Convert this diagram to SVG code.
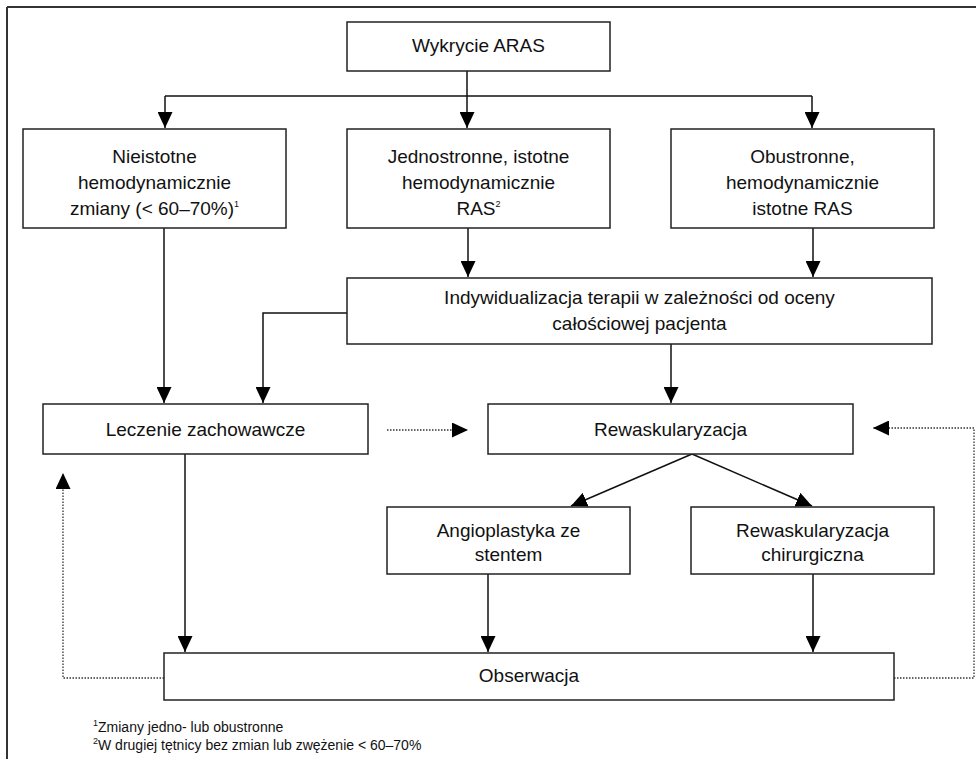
<svg xmlns="http://www.w3.org/2000/svg" width="976" height="759" viewBox="0 0 976 759">
<style>
.box{fill:#fff;stroke:#222;stroke-width:1.5}
.t{font-family:"Liberation Sans",Arial,sans-serif;font-size:19px;fill:#111;text-anchor:middle}
.fn{font-family:"Liberation Sans",Arial,sans-serif;font-size:14px;fill:#111}
.sup{font-size:9px}
.ln{fill:none;stroke:#111;stroke-width:1.5}
.dot{fill:none;stroke:#333;stroke-width:1.3;stroke-dasharray:1.5 1.5}
</style>
<defs>
<marker id="ah" viewBox="0 0 16 15" refX="16" refY="7.5" markerWidth="16" markerHeight="15" markerUnits="userSpaceOnUse" orient="auto">
<path d="M0,0 L16,7.5 L0,15 Z" fill="#000"/>
</marker>
</defs>
<g id="frame">
<line x1="7" y1="7" x2="976" y2="7" stroke="#333" stroke-width="2"/>
<line x1="7" y1="7" x2="7" y2="759" stroke="#333" stroke-width="2"/>
</g>
<g id="connectors">
<line class="ln" x1="467" y1="71" x2="467" y2="96"/>
<line class="ln" x1="165" y1="96" x2="812" y2="96"/>
<line class="ln" x1="165" y1="96" x2="165" y2="128" marker-end="url(#ah)"/>
<line class="ln" x1="467" y1="96" x2="467" y2="128" marker-end="url(#ah)"/>
<line class="ln" x1="812" y1="96" x2="812" y2="128" marker-end="url(#ah)"/>
<line class="ln" x1="468" y1="228" x2="468" y2="277" marker-end="url(#ah)"/>
<line class="ln" x1="813" y1="228" x2="813" y2="277" marker-end="url(#ah)"/>
<line class="ln" x1="164" y1="228" x2="164" y2="403" marker-end="url(#ah)"/>
<polyline class="ln" points="347,313 263,313 263,403" marker-end="url(#ah)"/>
<line class="ln" x1="671" y1="344" x2="671" y2="403" marker-end="url(#ah)"/>
<line class="dot" x1="387" y1="430" x2="468" y2="430" marker-end="url(#ah)"/>
<line class="ln" x1="692" y1="454" x2="571" y2="506" marker-end="url(#ah)"/>
<line class="ln" x1="692" y1="454" x2="812" y2="506" marker-end="url(#ah)"/>
<line class="ln" x1="185" y1="454" x2="185" y2="652" marker-end="url(#ah)"/>
<line class="ln" x1="488" y1="574" x2="488" y2="652" marker-end="url(#ah)"/>
<line class="ln" x1="813" y1="574" x2="813" y2="652" marker-end="url(#ah)"/>
<polyline class="dot" points="164,678 63,678 63,473" marker-end="url(#ah)"/>
<polyline class="dot" points="894,678 974,678 974,428 873,428" marker-end="url(#ah)"/>
</g>
<g id="n_wykrycie">
<rect class="box" x="347" y="22" width="263" height="49"/>
<text class="t" x="478.5" y="52">Wykrycie ARAS</text>
</g>
<g id="n_nieistotne">
<rect class="box" x="23" y="129" width="263" height="99"/>
<text class="t" x="154.5" y="163">Nieistotne</text>
<text class="t" x="154.5" y="189">hemodynamicznie</text>
<text class="t" x="154.5" y="215">zmiany (&lt; 60–70%)<tspan class="sup" dy="-8">1</tspan></text>
</g>
<g id="n_jednostronne">
<rect class="box" x="347" y="129" width="263" height="99"/>
<text class="t" x="478.5" y="163">Jednostronne, istotne</text>
<text class="t" x="478.5" y="189">hemodynamicznie</text>
<text class="t" x="478.5" y="215">RAS<tspan class="sup" dy="-8">2</tspan></text>
</g>
<g id="n_obustronne">
<rect class="box" x="671" y="129" width="263" height="99"/>
<text class="t" x="802.5" y="163">Obustronne,</text>
<text class="t" x="802.5" y="189">hemodynamicznie</text>
<text class="t" x="802.5" y="215">istotne RAS</text>
</g>
<g id="n_indywidualizacja">
<rect class="box" x="347" y="278" width="585" height="66"/>
<text class="t" x="639.5" y="304">Indywidualizacja terapii w zależności od oceny</text>
<text class="t" x="639.5" y="330">całościowej pacjenta</text>
</g>
<g id="n_leczenie">
<rect class="box" x="43" y="404" width="325" height="50"/>
<text class="t" x="205.5" y="436">Leczenie zachowawcze</text>
</g>
<g id="n_rewaskularyzacja">
<rect class="box" x="488" y="404" width="365" height="50"/>
<text class="t" x="670.5" y="436">Rewaskularyzacja</text>
</g>
<g id="n_angioplastyka">
<rect class="box" x="387" y="507" width="243" height="67"/>
<text class="t" x="508.5" y="537">Angioplastyka ze</text>
<text class="t" x="508.5" y="561">stentem</text>
</g>
<g id="n_chirurgiczna">
<rect class="box" x="691" y="507" width="243" height="67"/>
<text class="t" x="812.5" y="537">Rewaskularyzacja</text>
<text class="t" x="812.5" y="561">chirurgiczna</text>
</g>
<g id="n_obserwacja">
<rect class="box" x="164" y="653" width="730" height="47"/>
<text class="t" x="529" y="682">Obserwacja</text>
</g>
<g id="footnotes">
<text class="fn" x="93" y="732"><tspan class="sup" dy="-6">1</tspan><tspan dy="6">Zmiany jedno- lub obustronne</tspan></text>
<text class="fn" x="93" y="750"><tspan class="sup" dy="-6">2</tspan><tspan dy="6">W drugiej tętnicy bez zmian lub zwężenie &lt; 60–70%</tspan></text>
</g>
</svg>
